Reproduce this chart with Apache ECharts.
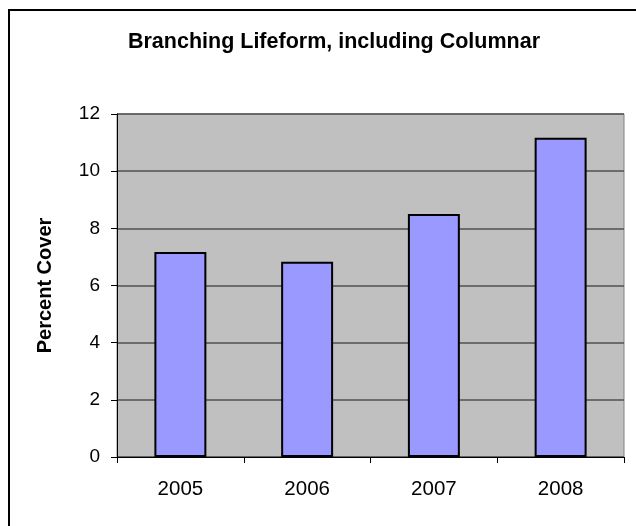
<!DOCTYPE html>
<html>
<head>
<meta charset="utf-8">
<script src="https://cdn.jsdelivr.net/npm/echarts@6/dist/echarts.min.js"></script>
<style>
  html, body { margin: 0; padding: 0; background: #fff; }
  #chart { width: 636px; height: 526px; }
</style>
</head>
<body>
<div id="chart"></div>
<script>
// Yearly percent cover for the branching lifeform (columnar included)
const years = ['2005', '2006', '2007', '2008'];
const percentCover = [7.17, 6.83, 8.5, 11.17];
const yTicks = { min: 0, max: 12, step: 2 };

const FONT = "'Liberation Sans', Arial, sans-serif";

const chart = echarts.init(document.getElementById('chart'), null, { renderer: 'canvas' });
chart.setOption({
  animation: false,
  backgroundColor: '#ffffff',
  title: {
    text: 'Branching Lifeform, including Columnar',
    left: 329,
    textAlign: 'center',
    top: 26,
    textStyle: { fontFamily: FONT, fontSize: 21.5, fontWeight: 'bold', color: '#000' }
  },
  graphic: [{
    type: 'rect',
    shape: { x: 9, y: 10, width: 700, height: 600 },
    style: { fill: 'none', stroke: '#000', lineWidth: 2 },
    silent: true
  }],
  grid: {
    left: 117, top: 114, right: 12, bottom: 69,
    show: true,
    backgroundColor: '#c0c0c0',
    borderColor: '#808080',
    borderWidth: 1
  },
  xAxis: {
    type: 'category',
    data: years,
    axisLine: { lineStyle: { color: '#000', width: 1 } },
    axisTick: { show: true, length: 6, lineStyle: { color: '#000' } },
    axisLabel: { fontFamily: FONT, fontSize: 20.5, color: '#000', margin: 22 }
  },
  yAxis: {
    type: 'value',
    min: yTicks.min, max: yTicks.max, interval: yTicks.step,
    name: 'Percent Cover',
    nameLocation: 'middle',
    nameGap: 62,
    nameTextStyle: { fontFamily: FONT, fontSize: 20, fontWeight: 'bold', color: '#000' },
    axisLine: { show: true, lineStyle: { color: '#000', width: 1 } },
    axisTick: { show: true, length: 6, lineStyle: { color: '#000' } },
    axisLabel: { fontFamily: FONT, fontSize: 19, color: '#000', margin: 17 },
    splitLine: { show: true, lineStyle: { color: '#505050', width: 1.5 } }
  },
  series: [{
    type: 'bar',
    data: percentCover,
    barWidth: '41%',
    itemStyle: { color: '#9999ff', borderColor: '#000', borderWidth: 2 }
  }]
});
</script>
</body>
</html>
